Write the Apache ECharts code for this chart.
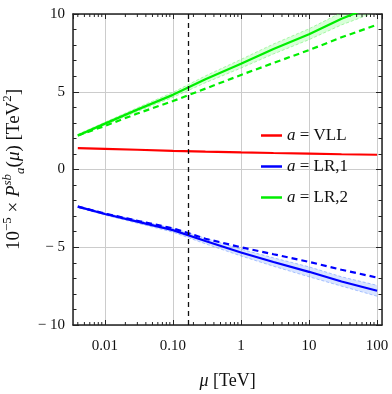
<!DOCTYPE html>
<html>
<head>
<meta charset="utf-8">
<script src="https://cdn.jsdelivr.net/npm/echarts@6/dist/echarts.min.js"></script>
<style>
html, body { margin: 0; padding: 0; background: #fff; }
#chart { width: 392px; height: 394px; }
</style>
</head>
<body>
<div id="chart"></div>
<script>
// scale points (TeV) and values
const mu = [0.004, 0.01, 0.03, 0.1, 0.3, 1, 3, 10, 30, 100];
const vll = [1.38, 1.33, 1.27, 1.2, 1.15, 1.1, 1.06, 1.02, 0.98, 0.95];
const lr1 = [-2.39, -2.86, -3.35, -3.9, -4.6, -5.34, -5.95, -6.58, -7.2, -7.8];
const lr1Dashed = [-2.39, -2.83, -3.3, -3.78, -4.45, -5.0, -5.45, -5.94, -6.45, -6.95];
const lr1Lo = [-2.44, -2.93, -3.45, -4.03, -4.78, -5.56, -6.22, -6.9, -7.5, -8.15];
const lr1Hi = [-2.34, -2.79, -3.25, -3.77, -4.42, -5.12, -5.68, -6.26, -6.9, -7.45];
const lr2 = [2.19, 2.95, 3.85, 4.8, 5.8, 6.8, 7.75, 8.7, 9.7, 10.6];
const lr2Dashed = [2.19, 2.8, 3.6, 4.4, 5.2, 6.08, 6.85, 7.68, 8.5, 9.31];
const lr2Lo = [2.11, 2.86, 3.73, 4.64, 5.58, 6.52, 7.43, 8.35, 9.3, 10.15];
const lr2Hi = [2.27, 3.04, 3.97, 4.96, 6.02, 7.08, 8.07, 9.05, 10.1, 11.05];
const muRef = 0.165;
const xTickLabels = ['0.01', '0.10', '1', '10', '100'];

const font = 'Liberation Serif';
const pairs = (ys) => mu.map((m, i) => [m, ys[i]]);

// minor tick positions for the log axis (2..9 x 10^k)
const minorTicks = [];
for (let k = -3; k <= 1; k++) {
    for (let j = 2; j <= 9; j++) {
        const v = j * Math.pow(10, k);
        if (v > 0.0034 && v < 118) minorTicks.push([v, 0]);
    }
}

// uncertainty band drawn as one polygon through the axis scales
function band(name, lo, hi, fill, edge) {
    return {
        name: name, type: 'custom', silent: true,
        data: [[mu[0], lo[0]]],
        renderItem: (params, api) => {
            const cs = params.coordSys;
            const top = mu.map((m, i) => api.coord([m, hi[i]]));
            const bot = mu.map((m, i) => api.coord([m, lo[i]])).reverse();
            const edgeStyle = { stroke: edge, lineWidth: 0.8, lineDash: [3, 2], fill: null };
            return {
                type: 'group',
                clipPath: { type: 'rect', shape: { x: cs.x, y: cs.y, width: cs.width, height: cs.height } },
                children: [
                    { type: 'polygon', shape: { points: top.concat(bot) }, style: { fill: fill } },
                    { type: 'polyline', shape: { points: top }, style: edgeStyle },
                    { type: 'polyline', shape: { points: bot }, style: edgeStyle }
                ]
            };
        }
    };
}

const chart = echarts.init(document.getElementById('chart'));

const xAxisBase = {
    type: 'log', logBase: 10, min: 0.0034, max: 118,
    axisLine: { show: true, onZero: false, lineStyle: { color: '#222', width: 1.5 } },
    axisTick: { show: true, inside: true, length: 5, lineStyle: { color: '#222', width: 1 } },
    splitLine: { show: false }
};
const yAxisBase = {
    type: 'value', min: -10, max: 10, interval: 5,
    axisLine: { show: true, onZero: false, lineStyle: { color: '#222', width: 1.5 } },
    axisTick: { show: true, inside: true, length: 6, lineStyle: { color: '#222', width: 1 } },
    minorTick: { show: true, splitNumber: 5, length: 3.5, lineStyle: { color: '#222', width: 1 } },
    splitLine: { show: false }
};

chart.setOption({
    animation: false,
    grid: { left: 73, right: 10, top: 14, bottom: 69, outerBoundsMode: 'none' },
    legend: {
        data: ['VLL', 'LR,1', 'LR,2'],
        orient: 'vertical', left: 256, top: 122, itemGap: 14,
        icon: 'rect', itemWidth: 21, itemHeight: 2.5,
        formatter: (n) => '{i|a} = ' + n,
        textStyle: {
            fontFamily: font, fontSize: 17, color: '#111',
            rich: { i: { fontFamily: font, fontStyle: 'italic', fontSize: 17, color: '#111' } }
        }
    },
    xAxis: [
        Object.assign({}, xAxisBase, {
            position: 'bottom',
            name: '{it|μ} [TeV]', nameLocation: 'middle', nameGap: 47,
            nameTextStyle: {
                fontFamily: font, fontSize: 18, color: '#111',
                rich: { it: { fontFamily: font, fontStyle: 'italic', fontSize: 18, color: '#111' } }
            },
            axisLabel: {
                margin: 14, fontFamily: font, fontSize: 15, color: '#111',
                showMinLabel: false, showMaxLabel: false,
                formatter: (v) => {
                    const idx = Math.round(Math.log10(v)) + 2;
                    return xTickLabels[idx] !== undefined ? xTickLabels[idx] : '';
                }
            },
            splitLine: { show: true, lineStyle: { color: '#cccccc', width: 1 } }
        }),
        Object.assign({}, xAxisBase, { position: 'top', axisLabel: { show: false } })
    ],
    yAxis: [
        Object.assign({}, yAxisBase, {
            position: 'left',
            name: '10{sup|−5} × {it|P}{supi|sb}{sub|a}({it|μ}) [TeV{sup|2}]',
            nameLocation: 'middle', nameRotate: 90, nameGap: 46,
            nameTextStyle: {
                fontFamily: font, fontSize: 19, color: '#111', lineHeight: 26,
                rich: {
                    it: { fontFamily: font, fontStyle: 'italic', fontSize: 19, color: '#111', lineHeight: 26 },
                    sup: { fontFamily: font, fontSize: 13, color: '#111', verticalAlign: 'top', lineHeight: 26 },
                    supi: { fontFamily: font, fontStyle: 'italic', fontSize: 13, color: '#111', verticalAlign: 'top', lineHeight: 26 },
                    sub: { fontFamily: font, fontStyle: 'italic', fontSize: 13, color: '#111', verticalAlign: 'bottom', lineHeight: 26 }
                }
            },
            axisLabel: {
                margin: 8, fontFamily: font, fontSize: 15, color: '#111',
                formatter: (v) => (v < 0 ? '− ' + Math.abs(v) : String(v))
            },
            splitLine: { show: true, lineStyle: { color: '#cccccc', width: 1 } }
        }),
        Object.assign({}, yAxisBase, { position: 'right', axisLabel: { show: false } })
    ],
    series: [
        band('lr1band', lr1Lo, lr1Hi, 'rgba(120,160,255,0.28)', 'rgba(90,140,255,0.6)'),
        band('lr2band', lr2Lo, lr2Hi, 'rgba(120,255,120,0.28)', 'rgba(90,235,90,0.6)'),
        {
            name: 'VLL', type: 'line', data: pairs(vll), showSymbol: false,
            lineStyle: { color: '#ff0000', width: 2.2 }, itemStyle: { color: '#ff0000' }
        },
        {
            name: 'LR,1', type: 'line', data: pairs(lr1), showSymbol: false,
            lineStyle: { color: '#0000ff', width: 2.2 }, itemStyle: { color: '#0000ff' }
        },
        {
            name: 'LR,1 dashed', type: 'line', data: pairs(lr1Dashed), showSymbol: false,
            lineStyle: { color: '#0000ff', width: 2.2, type: [6, 4] }
        },
        {
            name: 'LR,2', type: 'line', data: pairs(lr2), showSymbol: false,
            lineStyle: { color: '#00ee00', width: 2.2 }, itemStyle: { color: '#00ee00' }
        },
        {
            name: 'LR,2 dashed', type: 'line', data: pairs(lr2Dashed), showSymbol: false,
            lineStyle: { color: '#00ee00', width: 2.2, type: [6, 4] },
            markLine: {
                silent: true, symbol: 'none', label: { show: false },
                lineStyle: { color: '#111', width: 1.3, type: [5, 4] },
                data: [{ xAxis: muRef }]
            }
        },
        {
            name: 'minor', type: 'custom', silent: true, data: minorTicks,
            renderItem: (params, api) => {
                const b = api.coord([api.value(0), -10]);
                const t = api.coord([api.value(0), 10]);
                const st = { stroke: '#222', lineWidth: 1 };
                return {
                    type: 'group', children: [
                        { type: 'line', shape: { x1: b[0], y1: b[1], x2: b[0], y2: b[1] - 3 }, style: st },
                        { type: 'line', shape: { x1: t[0], y1: t[1], x2: t[0], y2: t[1] + 3 }, style: st }
                    ]
                };
            }
        }
    ]
});
</script>
</body>
</html>
